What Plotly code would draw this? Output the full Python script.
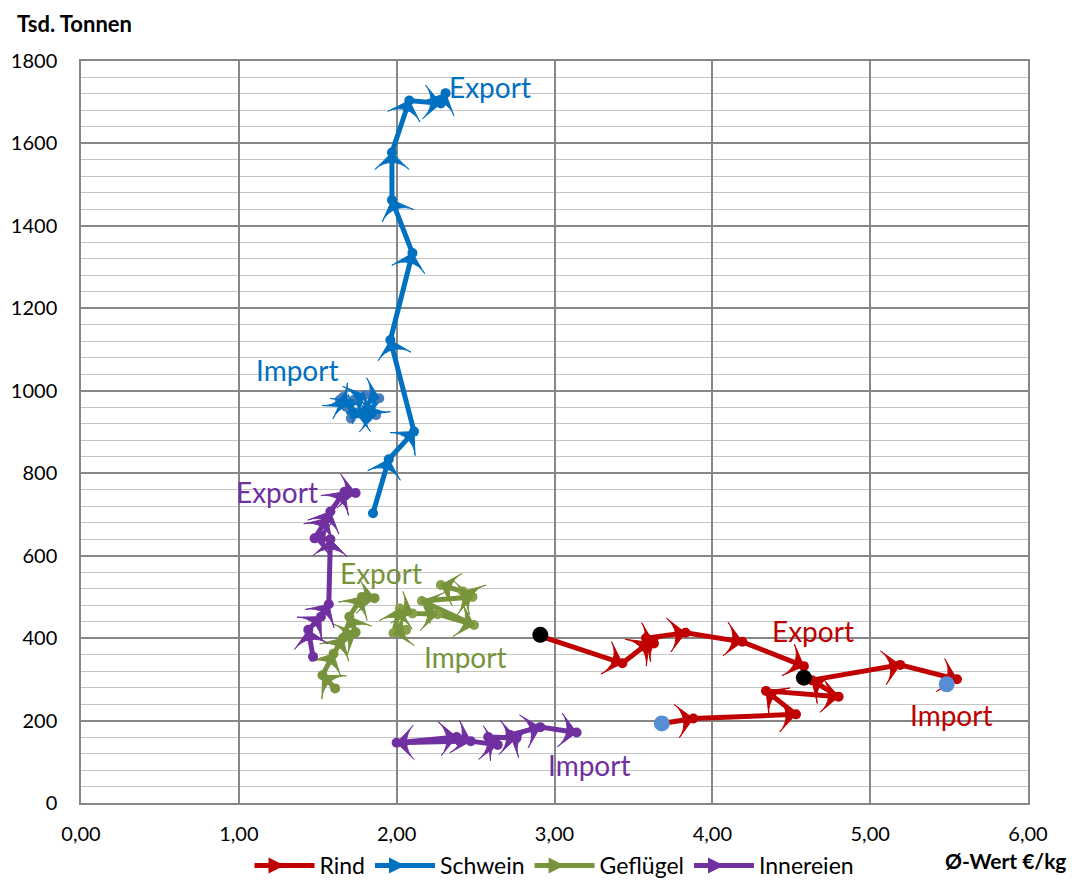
import plotly.graph_objects as go

# Rind (beef)
rind_exp_x = [2.91, 3.43, 3.60, 3.63, 3.58, 3.83, 4.19, 4.58]
rind_exp_y = [405, 339, 390, 387, 400, 413, 391, 332]
rind_imp_x = [3.68, 3.88, 4.53, 4.34, 4.80, 4.63, 5.19, 5.55]
rind_imp_y = [193, 205, 215, 272, 258, 298, 335, 300]
rind_ref_x = [2.91, 4.58]
rind_ref_y = [408, 304]
rind_imp_ref_x = [3.68, 5.485]
rind_imp_ref_y = [193, 288]

# Schwein (pork)
schwein_exp_x = [1.85, 1.95, 2.11, 1.96, 2.10, 1.97, 1.97, 2.08, 2.28, 2.31]
schwein_exp_y = [703, 834, 901, 1123, 1334, 1463, 1578, 1704, 1697, 1722]
schwein_imp_x = [1.64, 1.68, 1.73, 1.80, 1.89, 1.81, 1.87, 1.74, 1.71, 1.66]
schwein_imp_y = [978, 961, 978, 990, 982, 941, 941, 947, 933, 985]

# Geflügel (poultry)
gefl_exp_x = [1.61, 1.53, 1.60, 1.66, 1.74, 1.70, 1.78, 1.86]
gefl_exp_y = [278, 310, 362, 400, 414, 452, 500, 497]
gefl_imp_x = [2.06, 1.98, 2.02, 2.10, 2.26, 2.49, 2.16, 2.48, 2.42, 2.28]
gefl_imp_y = [420, 412, 472, 460, 458, 432, 490, 500, 513, 529]

# Innereien (offal)
inn_exp_x = [1.47, 1.44, 1.52, 1.57, 1.58, 1.48, 1.56, 1.58, 1.67, 1.74]
inn_exp_y = [355, 420, 452, 482, 640, 642, 690, 707, 755, 752]
inn_imp_x = [2.40, 2.00, 2.38, 2.47, 2.64, 2.58, 2.76, 2.72, 2.91, 3.14]
inn_imp_y = [150, 146, 160, 150, 141, 160, 158, 165, 184, 171]

x_ticks = [0, 1, 2, 3, 4, 5, 6]
x_ticktext = ["0,00", "1,00", "2,00", "3,00", "4,00", "5,00", "6,00"]

RED = "#C00000"
BLUE = "#0070C0"
GREEN = "#77933C"
PURPLE = "#7030A0"
FONT = "Lato"

fig = go.Figure()


def add_path(x, y, color, dot_color=None):
    # line with small dots at each point
    fig.add_trace(go.Scatter(
        x=x, y=y, mode="lines+markers", showlegend=False, hoverinfo="skip",
        line=dict(color=color, width=5),
        marker=dict(symbol="circle", size=10, color=dot_color or color),
    ))
    # arrow heads pointing along the direction of travel
    fig.add_trace(go.Scatter(
        x=x, y=y, mode="markers", showlegend=False, hoverinfo="skip",
        marker=dict(symbol="arrow-wide", angleref="previous", size=24, color=color,
                    line=dict(width=1, color=color)),
    ))


add_path(rind_exp_x, rind_exp_y, RED)
add_path(rind_imp_x, rind_imp_y, RED)
add_path(schwein_exp_x, schwein_exp_y, BLUE)
add_path(schwein_imp_x, schwein_imp_y, BLUE, "#4A7EBB")
add_path(gefl_exp_x, gefl_exp_y, GREEN)
add_path(gefl_imp_x, gefl_imp_y, GREEN, "#86A14A")
add_path(inn_exp_x, inn_exp_y, PURPLE)
add_path(inn_imp_x, inn_imp_y, PURPLE)

fig.add_trace(go.Scatter(x=rind_ref_x, y=rind_ref_y, mode="markers", showlegend=False,
                         marker=dict(size=16, color="black")))
fig.add_trace(go.Scatter(x=rind_imp_ref_x, y=rind_imp_ref_y, mode="markers", showlegend=False,
                         marker=dict(size=16, color="#558ED5")))

# legend entries
for name, col in [("Rind", RED), ("Schwein", BLUE), ("Geflügel", GREEN), ("Innereien", PURPLE)]:
    fig.add_trace(go.Scatter(
        x=[None], y=[None], mode="lines+markers", name=name,
        line=dict(color=col, width=5),
        marker=dict(symbol="arrow-right", size=20, color=col),
    ))

labels = [
    ("Export", 2.59, 1737, BLUE),
    ("Import", 1.37, 1050, BLUE),
    ("Export", 1.24, 754, PURPLE),
    ("Export", 1.90, 558, GREEN),
    ("Import", 2.43, 354, GREEN),
    ("Import", 3.22, 92, PURPLE),
    ("Export", 4.64, 417, RED),
    ("Import", 5.51, 213, RED),
]
for text, lx, ly, col in labels:
    fig.add_annotation(x=lx, y=ly, text=text, showarrow=False,
                       font=dict(family=FONT, size=28, color=col),
                       xanchor="center", yanchor="middle")

fig.add_annotation(x=-0.07, y=1.05, xref="paper", yref="paper", xanchor="left", yanchor="middle",
                   text="<b>Tsd. Tonnen</b>", showarrow=False,
                   font=dict(family=FONT, size=22, color="black"))
fig.add_annotation(x=1.0, y=-0.078, xref="paper", yref="paper", xanchor="left", yanchor="middle",
                   text="<b>Ø-Wert €/kg</b>", showarrow=False, xshift=-85,
                   font=dict(family=FONT, size=21, color="black"))

fig.update_layout(
    width=1072, height=887,
    margin=dict(l=81, r=44, t=61, b=84, autoexpand=False),
    plot_bgcolor="white", paper_bgcolor="white",
    font=dict(family=FONT, size=20, color="black"),
    legend=dict(orientation="h", x=0.5, xanchor="center",
                yref="container", y=0, yanchor="bottom",
                font=dict(family=FONT, size=23), itemwidth=60),
)
fig.update_xaxes(
    range=[0, 6], tickvals=x_ticks, ticktext=x_ticktext,
    showgrid=True, gridcolor="#878787", gridwidth=1.5,
    showline=True, linecolor="#878787", linewidth=1.5, mirror=True,
    zeroline=False, ticks="", ticklabelstandoff=12,
)
fig.update_yaxes(
    range=[0, 1800], dtick=200,
    showgrid=True, gridcolor="#878787", gridwidth=1.5,
    minor=dict(dtick=40, showgrid=True, gridcolor="#C4C4C4", gridwidth=1.3),
    showline=True, linecolor="#878787", linewidth=1.5, mirror=True,
    zeroline=False, ticks="", ticklabelstandoff=18,
)

fig.write_html("out.html", config={"displayModeBar": False},
               post_script="document.body.style.margin='0';")
